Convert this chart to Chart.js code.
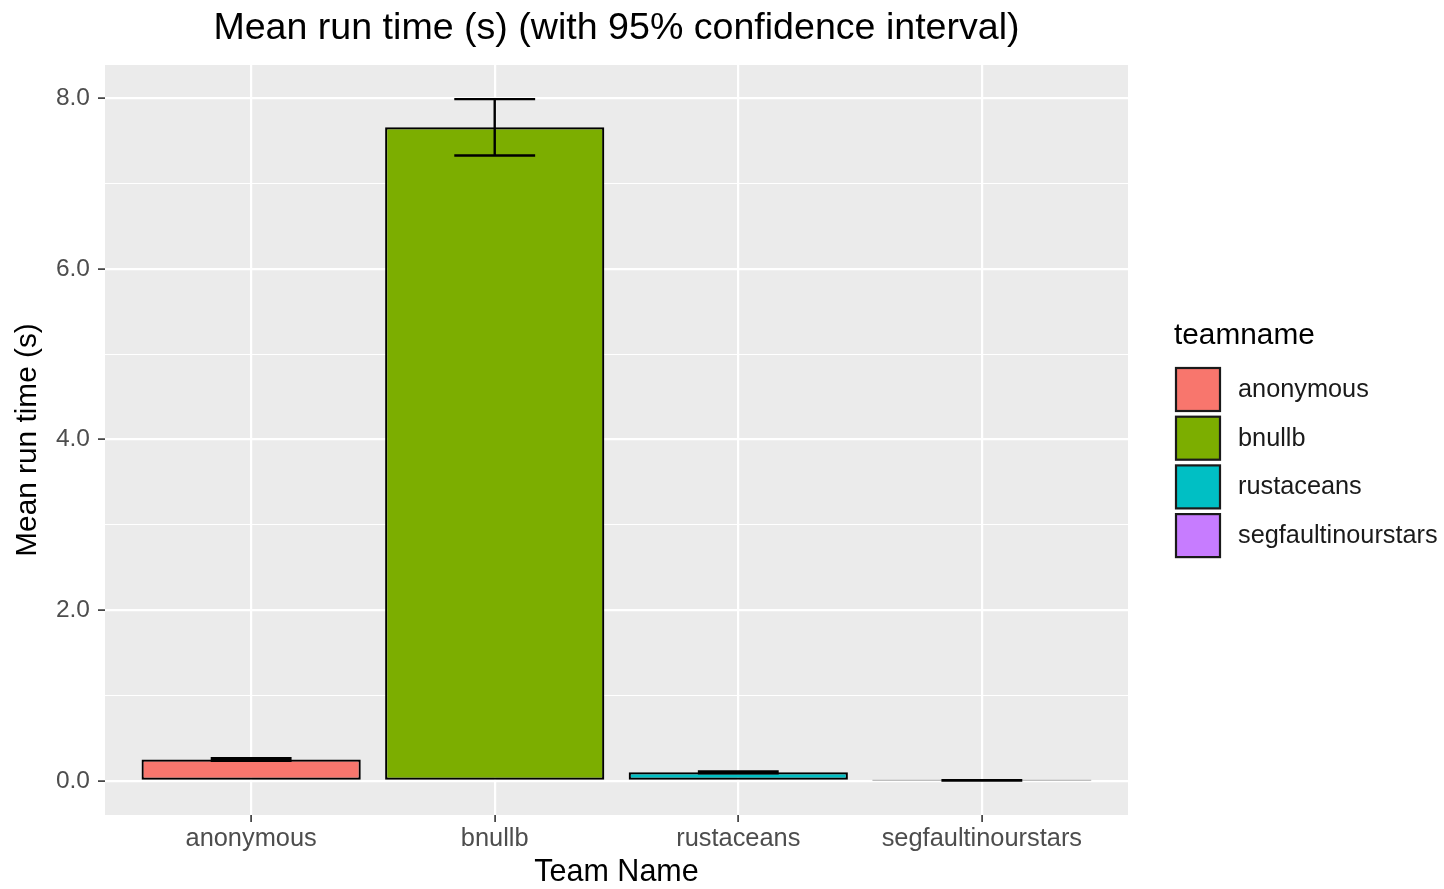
<!DOCTYPE html>
<html>
<head>
<meta charset="utf-8">
<script src="https://cdn.jsdelivr.net/npm/chart.js@4/dist/chart.umd.min.js"></script>
<style>
  html, body { margin: 0; padding: 0; background: #fff; }
  canvas { display: block; }
</style>
</head>
<body>
<canvas id="c" width="1444" height="889"></canvas>
<script>
// ---- data ----
const categories = ["anonymous", "bnullb", "rustaceans", "segfaultinourstars"];
const meanRunTime = [0.25, 7.66, 0.10, 0.005];
const ciLow = [0.235, 7.33, 0.09, 0.003];
const ciHigh = [0.265, 7.99, 0.11, 0.008];
const yTickValues = [0, 1, 2, 3, 4, 5, 6, 7, 8];
const barColors = ["#F8766D", "#7CAE00", "#00BFC4", "#C77CFF"];
const titleText = "Mean run time (s) (with 95% confidence interval)";
const xTitle = "Team Name";
const yTitle = "Mean run time (s)";
const legendTitle = "teamname";

const FONT = "'Liberation Sans', Arial, Helvetica, sans-serif";

const panelBg = {
  id: 'panelBg',
  beforeDraw(chart) {
    const {ctx, chartArea: a} = chart;
    ctx.save();
    ctx.fillStyle = '#EBEBEB';
    ctx.fillRect(a.left, a.top, a.right - a.left, a.bottom - a.top);
    ctx.restore();
  }
};

const errorBars = {
  id: 'errorBars',
  afterDatasetsDraw(chart) {
    const {ctx, scales: {x, y}} = chart;
    ctx.save();
    ctx.strokeStyle = '#000';
    ctx.lineWidth = 2.4;
    for (let i = 0; i < categories.length; i++) {
      const cx = x.getPixelForValue(i);
      const l = x.getPixelForValue(i - 0.166);
      const r = x.getPixelForValue(i + 0.166);
      const yl = y.getPixelForValue(ciLow[i]);
      const yh = y.getPixelForValue(ciHigh[i]);
      ctx.beginPath();
      ctx.moveTo(l, yh); ctx.lineTo(r, yh);
      ctx.moveTo(l, yl); ctx.lineTo(r, yl);
      ctx.moveTo(cx, yh); ctx.lineTo(cx, yl);
      ctx.stroke();
    }
    ctx.restore();
  }
};

const customLegend = {
  id: 'customLegend',
  afterDraw(chart) {
    const {ctx} = chart;
    ctx.save();
    ctx.textBaseline = 'middle';
    ctx.textAlign = 'left';
    ctx.fillStyle = '#000';
    ctx.font = `29.8px ${FONT}`;
    ctx.fillText(legendTitle, 1174, 336);
    ctx.font = `25.3px ${FONT}`;
    for (let i = 0; i < categories.length; i++) {
      const top = 368 + i * 48.7;
      ctx.fillStyle = barColors[i];
      ctx.fillRect(1176, top, 44, 43);
      ctx.strokeStyle = '#1a1a1a';
      ctx.lineWidth = 2.2;
      ctx.strokeRect(1176, top, 44, 43);
      ctx.fillStyle = '#1a1a1a';
      ctx.fillText(categories[i], 1238, top + 22);
    }
    ctx.restore();
  }
};

new Chart(document.getElementById('c'), {
  type: 'bar',
  data: {
    labels: categories,
    datasets: [{
      data: meanRunTime,
      backgroundColor: barColors,
      borderColor: '#000',
      borderWidth: 2.2,
      borderSkipped: false,
      categoryPercentage: 0.9,
      barPercentage: 1.0
    }]
  },
  options: {
    responsive: false,
    animation: false,
    layout: { padding: { left: 0, right: 316, top: 0, bottom: 0 } },
    plugins: {
      legend: { display: false },
      tooltip: { enabled: false },
      title: {
        display: true,
        text: titleText,
        fullSize: false,
        color: '#000',
        font: { family: FONT, size: 37.6, weight: 'normal', lineHeight: 1.2 },
        padding: { top: 6, bottom: 13.9 }
      }
    },
    scales: {
      x: {
        type: 'category',
        offset: true,
        afterBuildTicks(s) { s._startValue = -0.6; s._valueRange = 4.2; },
        afterFit(s) { s.height = 74; },
        grid: {
          offset: false,
          color: '#FFFFFF',
          lineWidth: 2.2,
          tickColor: '#333333',
          tickLength: 7,
          tickWidth: 1.6
        },
        border: { display: false },
        ticks: {
          color: '#4D4D4D',
          font: { family: FONT, size: 25.4 },
          padding: 2,
          maxRotation: 0,
          autoSkip: false
        },
        title: {
          display: true,
          text: xTitle,
          color: '#000',
          font: { family: FONT, size: 30.5, lineHeight: 1.05 },
          padding: { top: 0, bottom: 0 }
        }
      },
      y: {
        type: 'linear',
        min: -0.4,
        max: 8.39,
        afterBuildTicks(s) { s.ticks = yTickValues.map(v => ({ value: v })); },
        afterFit(s) { s.width = 105; },
        grid: {
          color: '#FFFFFF',
          lineWidth: c => (c.tick && c.tick.value % 2 === 0) ? 2.2 : 1.1,
          tickColor: c => (c.tick && c.tick.value % 2 === 0) ? '#333333' : 'rgba(0,0,0,0)',
          tickLength: 7,
          tickWidth: 1.6
        },
        border: { display: false },
        ticks: {
          color: '#4D4D4D',
          font: { family: FONT, size: 24.5 },
          padding: 8,
          callback: v => (v % 2 === 0 ? v.toFixed(1) : '')
        },
        title: {
          display: true,
          text: yTitle,
          color: '#000',
          font: { family: FONT, size: 29.8, lineHeight: 1.2 },
          padding: { top: 10, bottom: 0 }
        }
      }
    }
  },
  plugins: [panelBg, errorBars, customLegend]
});
</script>
</body>
</html>
